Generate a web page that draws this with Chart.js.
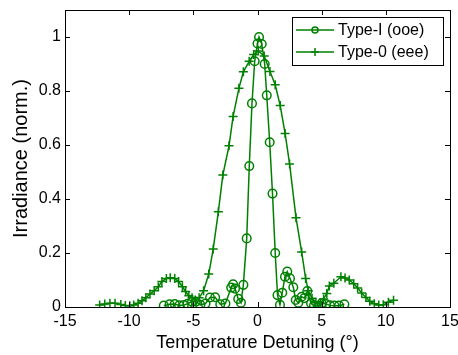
<!DOCTYPE html>
<html>
<head>
<meta charset="utf-8">
<script src="https://cdn.jsdelivr.net/npm/chart.js@4.4.1/dist/chart.umd.min.js"></script>
<style>
  html, body { margin: 0; padding: 0; background: #fff; }
  #wrap { width: 458px; height: 355px; }
</style>
</head>
<body>
<div id="wrap"><canvas id="phaseChart" width="458" height="355"></canvas></div>
<script>
// Type-I (ooe) measurement, temperature detuning (deg) vs normalised irradiance
const typeIX = [-7.3, -6.85, -6.45, -6.1, -5.75, -5.45, -5.1, -4.8, -4.45, -4.05, -3.7, -3.3, -2.9, -2.5, -2.05, -1.9, -1.75, -1.5, -1.29, -1.1,
    -0.84, -0.64, -0.43, -0.22, 0, 0.12, 0.33, 0.56, 0.72, 0.95, 1.17, 1.38, 1.56, 1.75, 1.93, 2.14, 2.32, 2.53, 2.79, 2.98,
    3.18, 3.44, 3.65, 3.88, 4.17, 4.4, 4.74, 5.0, 5.34, 5.65, 5.99, 6.35, 6.77];
const typeIY = [0.005, 0.01, 0.011, 0.006, 0.007, 0.012, 0.02, 0.02, 0.008, 0.013, 0.035, 0.036, 0.01, 0.013, 0.072, 0.084, 0.068, 0.03, 0.016, 0.082,
    0.254, 0.522, 0.754, 0.91, 0.976, 1.0, 0.974, 0.9, 0.784, 0.61, 0.42, 0.2, 0.044, 0.008, 0.053, 0.112, 0.131, 0.106, 0.073, 0.026,
    0.016, 0.038, 0.033, 0.059, 0.014, 0.005, 0.004, 0.014, 0.011, 0.006, 0.005, 0.005, 0.01];

// Type-0 (eee) measurement
const type0X = [-12.3, -11.9, -11.5, -11.1, -10.65, -10.3, -9.95, -9.65, -9.3, -9.0, -8.7, -8.38, -8.05, -7.73, -7.45, -7.1, -6.8, -6.45, -6.15, -5.85,
    -5.6, -5.35, -5.1, -4.85, -4.55, -4.2, -3.8, -3.45, -3.05, -2.7, -2.22, -1.9, -1.45, -1.1, -0.65, -0.3, 0.06, 0.52, 0.97, 1.38,
    1.77, 2.15, 2.5, 3.0, 3.44, 3.75, 3.96, 4.25, 4.55, 4.9, 5.15, 5.4, 5.6, 5.95, 6.5, 6.82, 7.15, 7.5, 7.8, 8.12,
    8.45, 8.75, 9.1, 9.45, 9.8, 10.2, 10.6];
const type0Y = [0.007, 0.011, 0.014, 0.014, 0.009, 0.006, 0.005, 0.007, 0.014, 0.023, 0.034, 0.048, 0.06, 0.075, 0.094, 0.106, 0.108, 0.106, 0.094, 0.075,
    0.057, 0.042, 0.034, 0.026, 0.034, 0.06, 0.122, 0.215, 0.353, 0.489, 0.597, 0.706, 0.81, 0.871, 0.91, 0.935, 0.948, 0.93, 0.872, 0.823,
    0.746, 0.643, 0.53, 0.331, 0.204, 0.106, 0.06, 0.032, 0.016, 0.014, 0.03, 0.05, 0.078, 0.088, 0.112, 0.107, 0.1, 0.086, 0.07, 0.052,
    0.035, 0.021, 0.012, 0.007, 0.008, 0.018, 0.025];

const seriesNames = ["Type-I (ooe)", "Type-0 (eee)"];
const xTicks = [-15, -10, -5, 0, 5, 10, 15];
const yTicks = [0, 0.2, 0.4, 0.6, 0.8, 1];

const GREEN = "rgb(0,128,0)";
const FONT = "'Liberation Sans', Arial, Helvetica, sans-serif";

function toPoints(xs, ys) {
    return xs.map((x, i) => ({ x: x, y: ys[i] }));
}

// MATLAB-like box with inward ticks on all four sides
const boxPlugin = {
    id: "boxTicks",
    afterDatasetsDraw(chart) {
        const { ctx, chartArea: a, scales } = chart;
        const tl = 5;
        ctx.save();
        ctx.strokeStyle = "#000";
        ctx.lineWidth = 1;
        ctx.beginPath();
        xTicks.forEach(v => {
            const px = Math.round(scales.x.getPixelForValue(v)) + 0.5;
            ctx.moveTo(px, a.bottom); ctx.lineTo(px, a.bottom - tl);
            ctx.moveTo(px, a.top); ctx.lineTo(px, a.top + tl);
        });
        yTicks.forEach(v => {
            const py = Math.round(scales.y.getPixelForValue(v)) + 0.5;
            ctx.moveTo(a.left, py); ctx.lineTo(a.left + tl, py);
            ctx.moveTo(a.right, py); ctx.lineTo(a.right - tl, py);
        });
        ctx.stroke();
        ctx.strokeRect(Math.round(a.left) + 0.5, Math.round(a.top) + 0.5,
            Math.round(a.right - a.left), Math.round(a.bottom - a.top));
        ctx.restore();
    }
};

// legend box inside the top-right corner
const legendPlugin = {
    id: "boxLegend",
    afterDraw(chart) {
        const ctx = chart.ctx;
        const bx = 292, by = 17, bw = 151, bh = 48;
        ctx.save();
        ctx.fillStyle = "#fff";
        ctx.fillRect(bx, by, bw, bh);
        ctx.strokeStyle = "#000";
        ctx.lineWidth = 1;
        ctx.strokeRect(bx + 0.5, by + 0.5, bw, bh);
        chart.data.datasets.forEach((ds, i) => {
            const y = by + 13 + i * 22;
            ctx.strokeStyle = ds.borderColor;
            ctx.lineWidth = ds.borderWidth;
            ctx.beginPath();
            ctx.moveTo(296, y); ctx.lineTo(334, y);
            ctx.stroke();
            ctx.beginPath();
            if (ds.pointStyle === "circle") {
                ctx.arc(315, y, 3, 0, Math.PI * 2);
            } else {
                ctx.moveTo(315, y - 4); ctx.lineTo(315, y + 4);
                ctx.moveTo(311, y); ctx.lineTo(319, y);
            }
            ctx.stroke();
            ctx.fillStyle = "#000";
            ctx.font = "16px " + FONT;
            ctx.textBaseline = "middle";
            ctx.textAlign = "left";
            ctx.fillText(ds.label, 338, y + 1);
        });
        ctx.restore();
    }
};

new Chart(document.getElementById("phaseChart"), {
    type: "scatter",
    data: {
        datasets: [{
            label: seriesNames[0],
            data: toPoints(typeIX, typeIY),
            showLine: true,
            borderColor: GREEN,
            borderWidth: 1.5,
            pointStyle: "circle",
            pointRadius: 4.3,
            pointBorderWidth: 1.5,
            pointBorderColor: GREEN,
            pointBackgroundColor: "rgba(0,0,0,0)"
        }, {
            label: seriesNames[1],
            data: toPoints(type0X, type0Y),
            showLine: true,
            borderColor: GREEN,
            borderWidth: 1.5,
            pointStyle: "cross",
            pointRadius: 4.5,
            pointBorderWidth: 1.5,
            pointBorderColor: GREEN,
            pointBackgroundColor: GREEN
        }]
    },
    options: {
        responsive: false,
        animation: false,
        layout: { padding: { top: 10, right: 8, left: 0, bottom: 0 } },
        plugins: { legend: { display: false }, tooltip: { enabled: false } },
        scales: {
            x: {
                type: "linear",
                min: -15, max: 15,
                grid: { display: false, drawTicks: false },
                border: { display: false },
                afterBuildTicks: s => { s.ticks = xTicks.map(v => ({ value: v })); },
                afterFit: s => { s.height = 48; s.paddingLeft = 0; s.paddingRight = 0; },
                ticks: { color: "#000", font: { family: FONT, size: 16 }, padding: 5, maxRotation: 0,
                    callback: v => String(v) },
                title: { display: true, text: "Temperature Detuning (°)", color: "#000",
                    font: { family: FONT, size: 18 }, padding: { top: 0, bottom: 1 } }
            },
            y: {
                type: "linear",
                min: 0, max: 1.1,
                grid: { display: false, drawTicks: false },
                border: { display: false },
                afterBuildTicks: s => { s.ticks = yTicks.map(v => ({ value: v })); },
                afterFit: s => { s.width = 65; s.paddingTop = 0; s.paddingBottom = 0; },
                ticks: { color: "#000", font: { family: FONT, size: 16 }, padding: 4,
                    callback: v => String(v) },
                title: { display: true, text: "Irradiance (norm.)", color: "#000",
                    font: { family: FONT, size: 20 }, padding: { top: 9, bottom: 0 } }
            }
        }
    },
    plugins: [boxPlugin, legendPlugin]
});
</script>
</body>
</html>
